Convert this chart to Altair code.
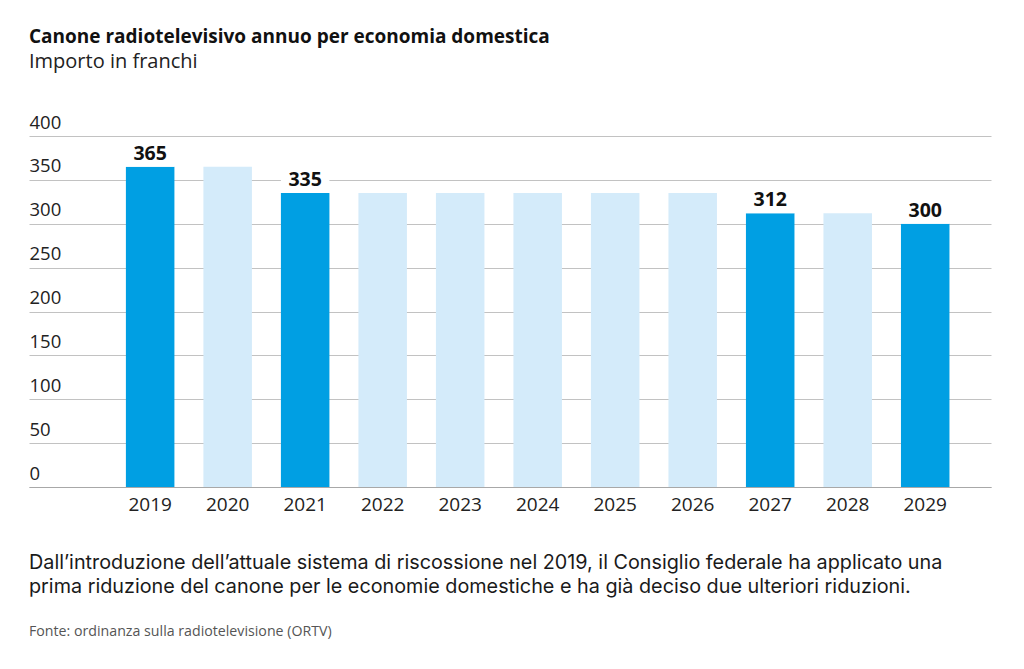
import altair as alt
import pandas as pd

years = ["2019", "2020", "2021", "2022", "2023", "2024", "2025", "2026", "2027", "2028", "2029"]
values = [365, 365, 335, 335, 335, 335, 335, 335, 312, 312, 300]
highlight = [True, False, True, False, False, False, False, False, True, False, True]
y_ticks = [0, 50, 100, 150, 200, 250, 300, 350, 400]

title = "Canone radiotelevisivo annuo per economia domestica"
subtitle = "Importo in franchi"
caption_lines = [
    "Dall\u2019introduzione dell\u2019attuale sistema di riscossione nel 2019, il Consiglio federale ha applicato una",
    "prima riduzione del canone per le economie domestiche e ha gi\u00e0 deciso due ulteriori riduzioni.",
]
source = "Fonte: ordinanza sulla radiotelevisione (ORTV)"

DARK = "#009FE3"
LIGHT = "#D4EBFA"
FONT = "Open Sans"

df = pd.DataFrame({"anno": years, "valore": values, "evid": highlight})

W, H = 962, 351

x = alt.X(
    "anno:N",
    sort=years,
    title=None,
    scale=alt.Scale(paddingInner=0.374, paddingOuter=0.893, align=0.70),
    axis=alt.Axis(
        labelAngle=0, ticks=False, labelPadding=8, labelFontSize=19,
        labelColor="#222222", labelFont=FONT, domainColor="#a8a8a8", domainWidth=1.2,
    ),
)
y_scale = alt.Scale(domain=[0, 400], nice=False)

base = alt.Chart(df)

bars = base.mark_bar().encode(
    x=x,
    y=alt.Y(
        "valore:Q",
        scale=y_scale,
        title=None,
        axis=alt.Axis(
            values=y_ticks, domain=False, ticks=False, labelAlign="left",
            labelPadding=0, labelBaseline="alphabetic", labelOffset=-8,
            labelFontSize=18.5, labelColor="#222222", labelFont=FONT,
            gridColor="#c2c2c2", gridWidth=1,
        ),
    ),
    color=alt.Color("evid:N", scale=alt.Scale(domain=[True, False], range=[DARK, LIGHT]), legend=None),
)

mask = base.transform_filter("datum.evid").transform_calculate(
    top="datum.valore + 27"
).mark_bar(color="white").encode(
    x=x,
    y=alt.Y("valore:Q", scale=y_scale),
    y2="top:Q",
)

labels = base.transform_filter("datum.evid").mark_text(
    baseline="alphabetic", dy=-7, fontSize=19.5, fontWeight="bold", font=FONT, color="#111111"
).encode(
    x=x,
    y=alt.Y("valore:Q", scale=y_scale),
    text=alt.Text("valore:Q"),
)

note_df = pd.DataFrame({"k": [0]})
caption = alt.Chart(note_df).mark_text(
    align="left", baseline="alphabetic", fontSize=19.8, font="Inter", color="#1a1a1a", lineHeight=24
).encode(x=alt.value(0), y=alt.value(H + 82), text=alt.value(caption_lines))

src = alt.Chart(note_df).mark_text(
    align="left", baseline="alphabetic", fontSize=14.2, font=FONT, color="#555555"
).encode(x=alt.value(0), y=alt.value(H + 149), text=alt.value(source))

chart = alt.layer(bars, mask, labels, caption, src).properties(
    width=W,
    height=H,
    title=alt.TitleParams(
        text=title, subtitle=subtitle, anchor="start", frame="group",
        font=FONT, fontSize=19, fontWeight="bold", color="#111111",
        subtitleFont=FONT, subtitleFontSize=20, subtitleColor="#222222",
        subtitlePadding=5, offset=41,
    ),
    autosize=alt.AutoSizeParams(type="none"),
    padding={"left": 21, "top": 128, "right": 20, "bottom": 170},
).configure_view(stroke=None)

chart.save("out.html", embed_options={"renderer": "svg", "actions": False})
